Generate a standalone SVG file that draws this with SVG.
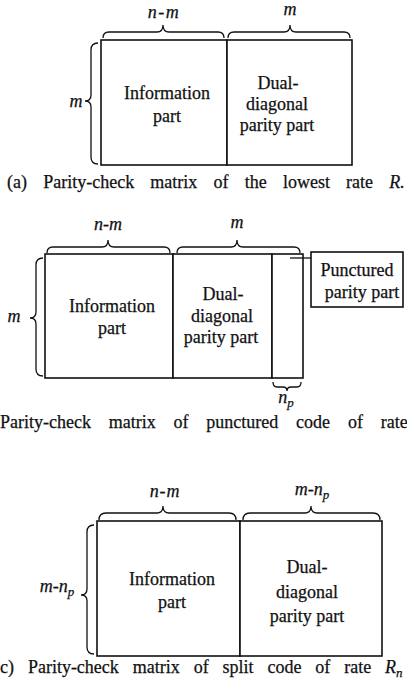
<svg xmlns="http://www.w3.org/2000/svg" width="407" height="686" viewBox="0 0 407 686" font-family="'Liberation Serif', 'Times New Roman', serif">
<style>
text{font-family:"Liberation Serif","Times New Roman",serif;fill:#111;stroke:#111;stroke-width:0.25;}
.lbl{font-size:18px;text-anchor:middle;}
.var{font-size:18px;font-style:italic;text-anchor:middle;}
.sub{font-size:13px;font-style:italic;}
.cap{font-size:18px;}
.box{fill:#fff;stroke:#111;stroke-width:1.6;}
.br{fill:none;stroke:#111;stroke-width:1.3;}
</style>
<rect width="407" height="686" fill="#fff"/>

<!-- Panel (a) -->
<g id="a-info"><rect class="box" x="101" y="40" width="126" height="125"/>
<text class="lbl" x="167" y="99">Information</text><text class="lbl" x="167" y="122">part</text></g>
<g id="a-parity"><rect class="box" x="227" y="40" width="125" height="125"/>
<text class="lbl" x="278" y="89">Dual-</text><text class="lbl" x="277" y="110">diagonal</text><text class="lbl" x="277" y="131">parity part</text></g>
<g id="a-braces">
<path class="br" d="M103,38 Q103,32 109,32 L157,32 Q163,32 163,25 Q163,32 169,32 L218,32 Q224,32 224,38"/>
<path class="br" d="M228,38 Q228,32 234,32 L284,32 Q290,32 290,25 Q290,32 296,32 L344,32 Q350,32 350,38"/>
<path class="br" d="M98,43 Q91,43 91,50 L91,95 Q91,101 85,101 Q91,101 91,107 L91,157 Q91,164 98,164"/>
<text class="var" x="164" y="18" letter-spacing="1.5">n-m</text>
<text class="var" x="290" y="15">m</text>
<text class="var" x="76" y="107">m</text>
</g>
<text class="cap" x="7" y="188" word-spacing="11.7">(a) Parity-check matrix of the lowest rate <tspan font-style="italic">R.</tspan></text>

<!-- Panel (b) -->
<g id="b-info"><rect class="box" x="45" y="254" width="128" height="124"/>
<text class="lbl" x="112" y="312">Information</text><text class="lbl" x="112" y="334">part</text></g>
<g id="b-parity"><rect class="box" x="173" y="254" width="99" height="124"/>
<text class="lbl" x="223" y="300">Dual-</text><text class="lbl" x="222" y="322">diagonal</text><text class="lbl" x="221" y="343">parity part</text></g>
<g id="b-punct"><rect class="box" x="272" y="254" width="31" height="124"/></g>
<g id="b-punct-label"><rect class="box" x="311" y="252" width="92" height="55"/>
<text class="lbl" x="357" y="276">Punctured</text><text class="lbl" x="362" y="298">parity part</text></g>
<g id="b-braces">
<path class="br" d="M47,253 Q47,247 53,247 L102,247 Q108,247 108,240 Q108,247 114,247 L164,247 Q170,247 170,253"/>
<path class="br" d="M177,253 Q177,247 183,247 L231,247 Q237,247 237,240 Q237,247 243,247 L294,247 Q300,247 300,253"/>
<path class="br" d="M43,258 Q36,258 36,265 L36,312 Q36,318 30,318 Q36,318 36,324 L36,369 Q36,376 43,376"/>
<path class="br" d="M273,382 Q273,387 277,387 L283,387 Q287,387 287,391 Q287,387 291,387 L297,387 Q301,387 301,382"/>
<text class="var" x="108" y="230">n-m</text>
<text class="var" x="237" y="228">m</text>
<text class="var" x="14" y="322">m</text>
<text class="var" x="286" y="403">n<tspan class="sub" dy="4">p</tspan></text>
</g>
<g id="connectors"><path class="br" d="M290,258 L311,258"/></g>
<text class="cap" x="0" y="428" word-spacing="13.3">Parity-check matrix of punctured code of rate</text>

<!-- Panel (c) -->
<g id="c-info"><rect class="box" x="97" y="521" width="143" height="135"/>
<text class="lbl" x="172" y="585">Information</text><text class="lbl" x="172" y="608">part</text></g>
<g id="c-parity"><rect class="box" x="240" y="521" width="142" height="135"/>
<text class="lbl" x="307" y="573">Dual-</text><text class="lbl" x="307" y="598">diagonal</text><text class="lbl" x="307" y="622">parity part</text></g>
<g id="c-braces">
<path class="br" d="M99,520 Q99,513 106,513 L157,513 Q163,513 163,506 Q163,513 169,513 L229,513 Q236,513 236,520"/>
<path class="br" d="M243,520 Q243,513 250,513 L305,513 Q311,513 311,506 Q311,513 317,513 L373,513 Q380,513 380,520"/>
<path class="br" d="M94,525 Q87,525 87,532 L87,589 Q87,595 81,595 Q87,595 87,601 L87,647 Q87,654 94,654"/>
<text class="var" x="165" y="497" letter-spacing="0.8">n-m</text>
<text class="var" x="312" y="495">m-n<tspan class="sub" dy="4">p</tspan></text>
<text class="var" x="57" y="592">m-n<tspan class="sub" dy="4">p</tspan></text>
</g>
<text class="cap" x="0" y="673" word-spacing="9.4">c) Parity-check matrix of split code of rate <tspan font-style="italic">R<tspan class="sub" dy="4">n</tspan></tspan></text>
</svg>
